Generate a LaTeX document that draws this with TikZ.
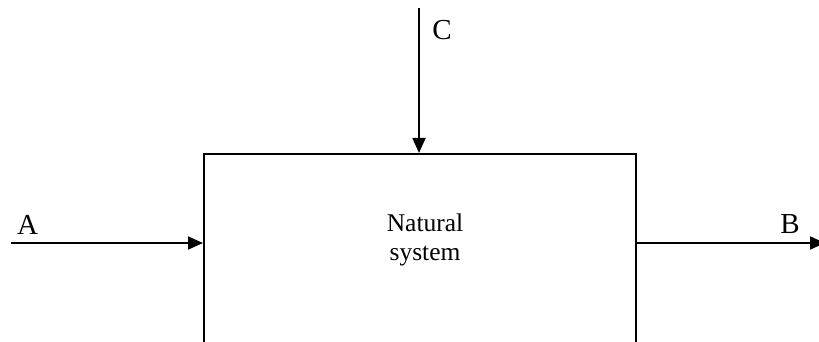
\documentclass[tikz,border=0pt]{standalone}
\usepackage{fontspec}
\setmainfont{Liberation Serif}
\usetikzlibrary{arrows.meta}
\begin{document}
\begin{tikzpicture}[x=1pt,y=-1pt,
  line/.style={line width=1.8pt},
  arr/.style={line, -{Triangle[length=15pt,width=13pt]}},
  lab/.style={font=\fontsize{29}{32}\selectfont, inner sep=0pt},
  sysbox/.style={draw, line width=1.8pt, rectangle, minimum width=432pt, minimum height=260pt, anchor=north west, inner sep=0pt}]
\useasboundingbox (0,0) rectangle (819,342);
\clip (0,0) rectangle (819,342);
\node[sysbox] (sys) at (203,153) {};
\node[font=\fontsize{25.5}{29.5}\selectfont, align=center, inner sep=0pt] (lbl) at (425,240) {Natural\\system};
\coordinate (ain) at (11,243);
\coordinate (bout) at (825,243);
\coordinate (cin) at (419,8);
\draw[arr] (ain) -- (sys.west |- ain);
\draw[arr] (sys.east |- ain) -- (bout);
\draw[arr] (cin) -- (cin |- sys.north);
\node[lab] (A) at (27.5,225) {A};
\node[lab] (B) at (790,224) {B};
\node[lab] (C) at (442,30) {C};
\end{tikzpicture}
\end{document}
